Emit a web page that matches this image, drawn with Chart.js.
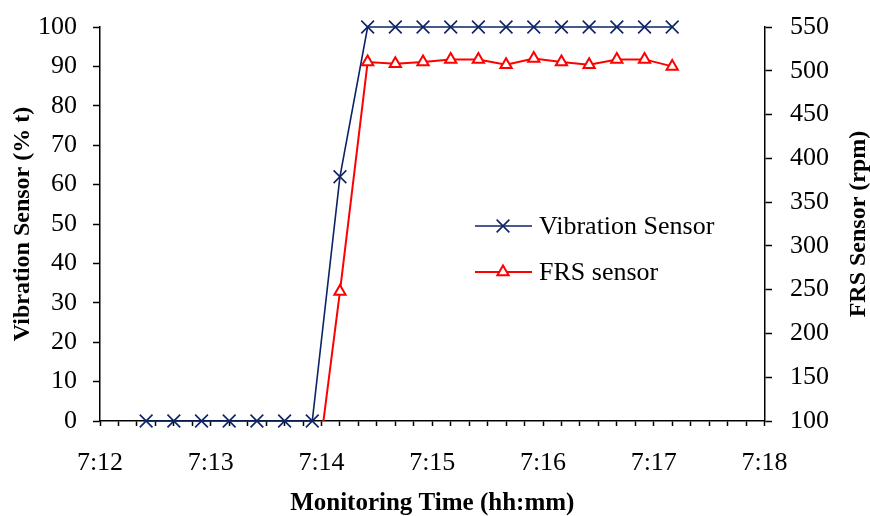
<!DOCTYPE html>
<html>
<head>
<meta charset="utf-8">
<title>Vibration and FRS sensor</title>
<script src="https://cdn.jsdelivr.net/npm/chart.js@4.4.1/dist/chart.umd.min.js"></script>
<style>
    html, body { margin: 0; padding: 0; background: #ffffff; }
    canvas { display: block; }
</style>
</head>
<body>
<canvas id="sensorChart" width="870" height="516"></canvas>
<script>
// Sample times (h:mm:ss), one reading every 15 s
const sampleTimes = [
    '7:12:25', '7:12:40', '7:12:55', '7:13:10', '7:13:25', '7:13:40', '7:13:55',
    '7:14:10', '7:14:25', '7:14:40', '7:14:55', '7:15:10', '7:15:25', '7:15:40',
    '7:15:55', '7:16:10', '7:16:25', '7:16:40', '7:16:55', '7:17:10'
];

// Vibration sensor (% t), left axis
const vibrationValues = [0, 0, 0, 0, 0, 0, 0, 62, 100, 100, 100, 100, 100, 100, 100, 100, 100, 100, 100, 100];

// FRS sensor (rpm), right axis
const frsValues = [0, 0, 0, 0, 0, 0, 0, 248, 510, 508, 510, 513, 513, 507, 514, 510, 507, 513, 513, 505];

// Axis ranges / tick labels
const timeAxisStart = '7:12:00';
const timeAxisEnd = '7:18:00';
const vibrationTicks = [0, 10, 20, 30, 40, 50, 60, 70, 80, 90, 100];
const frsTicks = [100, 150, 200, 250, 300, 350, 400, 450, 500, 550];

const seriesNames = ['Vibration Sensor', 'FRS sensor'];

function toSeconds(t) {
    const parts = t.split(':').map(Number);
    return parts[0] * 3600 + parts[1] * 60 + (parts[2] || 0);
}

function formatMinute(sec) {
    const h = Math.floor(sec / 3600);
    const m = Math.floor((sec % 3600) / 60);
    return h + ':' + String(m).padStart(2, '0');
}

// fixed box size, and no extra room for half tick labels
function fixBox(size) {
    return scale => {
        if (scale.isHorizontal()) scale.height = size;
        else scale.width = size;
        scale.paddingTop = 0;
        scale.paddingBottom = 0;
        scale.paddingLeft = 0;
        scale.paddingRight = 0;
    };
}

const serif = "'Liberation Serif', 'Times New Roman', serif";
const navy = '#0c2366';
const red = '#ff0000';

// Legend drawn inside the plot area
const sensorLegend = {
    id: 'sensorLegend',
    afterDatasetsDraw(chart) {
        const { ctx, chartArea } = chart;
        const x0 = chartArea.left + 375;
        chart.data.datasets.forEach((ds, i) => {
            const y = chartArea.top + 199 + i * 46;
            ctx.save();
            ctx.strokeStyle = ds.borderColor;
            ctx.lineWidth = ds.borderWidth;
            ctx.beginPath();
            ctx.moveTo(x0, y);
            ctx.lineTo(x0 + 57, y);
            ctx.stroke();

            ctx.fillStyle = ds.pointBackgroundColor;
            ctx.strokeStyle = ds.pointBorderColor;
            ctx.lineWidth = ds.pointBorderWidth;
            Chart.helpers.drawPoint(ctx, {
                pointStyle: ds.pointStyle,
                radius: ds.pointRadius,
                borderWidth: ds.pointBorderWidth,
                rotation: 0
            }, x0 + 28, y);

            ctx.fillStyle = '#000';
            ctx.font = '26px ' + serif;
            ctx.textAlign = 'left';
            ctx.textBaseline = 'middle';
            ctx.fillText(ds.label, x0 + 64, y + 1);
            ctx.restore();
        });
    }
};

// Right axis title reads bottom-to-top like the left one
const rightAxisTitle = {
    id: 'rightAxisTitle',
    afterDraw(chart) {
        const { ctx, chartArea } = chart;
        ctx.save();
        ctx.translate(859, (chartArea.top + chartArea.bottom) / 2);
        ctx.rotate(-Math.PI / 2);
        ctx.fillStyle = '#000';
        ctx.font = 'bold 24px ' + serif;
        ctx.textAlign = 'center';
        ctx.textBaseline = 'middle';
        ctx.fillText('FRS Sensor (rpm)', 0, 0);
        ctx.restore();
    }
};

const xValues = sampleTimes.map(toSeconds);

const config = {
    type: 'line',
    data: {
        datasets: [
            {
                label: seriesNames[0],
                data: xValues.map((x, i) => ({ x: x, y: vibrationValues[i] })),
                borderColor: navy,
                backgroundColor: navy,
                borderWidth: 1.6,
                pointStyle: 'crossRot',
                pointRadius: 9,
                pointBorderColor: navy,
                pointBackgroundColor: navy,
                pointBorderWidth: 1.6,
                tension: 0,
                yAxisID: 'y',
                clip: false,
                order: 1
            },
            {
                label: seriesNames[1],
                data: xValues.map((x, i) => ({ x: x, y: frsValues[i] })),
                borderColor: red,
                backgroundColor: '#ffffff',
                borderWidth: 2,
                pointStyle: 'triangle',
                pointRadius: 6.5,
                pointBorderColor: red,
                pointBackgroundColor: '#ffffff',
                pointBorderWidth: 2,
                tension: 0,
                yAxisID: 'y1',
                clip: { left: 10, top: 10, right: 10, bottom: 0 },
                order: 0
            }
        ]
    },
    options: {
        responsive: false,
        animation: false,
        layout: { padding: { top: 27, left: 0, right: 0, bottom: 0 } },
        plugins: {
            legend: { display: false },
            tooltip: { enabled: false },
            title: { display: false }
        },
        scales: {
            x: {
                type: 'linear',
                min: toSeconds(timeAxisStart),
                max: toSeconds(timeAxisEnd),
                afterFit: fixBox(95),
                border: { display: true, color: '#000', width: 1.5 },
                grid: { drawOnChartArea: false, drawTicks: true, color: '#000', tickLength: 5, tickWidth: 1.5 },
                ticks: {
                    stepSize: 10,
                    autoSkip: false,
                    maxRotation: 0,
                    maxTicksLimit: 100,
                    padding: 22,
                    color: '#000',
                    font: { family: serif, size: 26 },
                    callback: v => (v % 60 === 0 ? formatMinute(v) : '')
                },
                title: {
                    display: true,
                    text: 'Monitoring Time (hh:mm)',
                    color: '#000',
                    font: { family: serif, size: 25, weight: 'bold', lineHeight: 1 },
                    padding: { top: 0, bottom: 0 }
                }
            },
            y: {
                position: 'left',
                min: vibrationTicks[0],
                max: vibrationTicks[vibrationTicks.length - 1],
                afterFit: fixBox(100),
                afterBuildTicks: scale => { scale.ticks = vibrationTicks.map(v => ({ value: v })); },
                border: { display: true, color: '#000', width: 1.5 },
                grid: { drawOnChartArea: false, drawTicks: true, color: '#000', tickLength: 7, tickWidth: 1.5 },
                ticks: {
                    padding: 16,
                    color: '#000',
                    font: { family: serif, size: 26 }
                },
                title: {
                    display: true,
                    text: 'Vibration Sensor (% t)',
                    color: '#000',
                    font: { family: serif, size: 24, weight: 'bold', lineHeight: 1 },
                    padding: { top: 10.5, bottom: 0 }
                }
            },
            y1: {
                position: 'right',
                min: frsTicks[0],
                max: frsTicks[frsTicks.length - 1],
                afterFit: fixBox(105.5),
                afterBuildTicks: scale => { scale.ticks = frsTicks.map(v => ({ value: v })); },
                border: { display: true, color: '#000', width: 1.5 },
                grid: { drawOnChartArea: false, drawTicks: true, color: '#000', tickLength: 7.5, tickWidth: 1.5 },
                ticks: {
                    padding: 18,
                    color: '#000',
                    font: { family: serif, size: 26 }
                }
            }
        }
    },
    plugins: [sensorLegend, rightAxisTitle]
};

const chart = new Chart(document.getElementById('sensorChart').getContext('2d'), config);
</script>
</body>
</html>
